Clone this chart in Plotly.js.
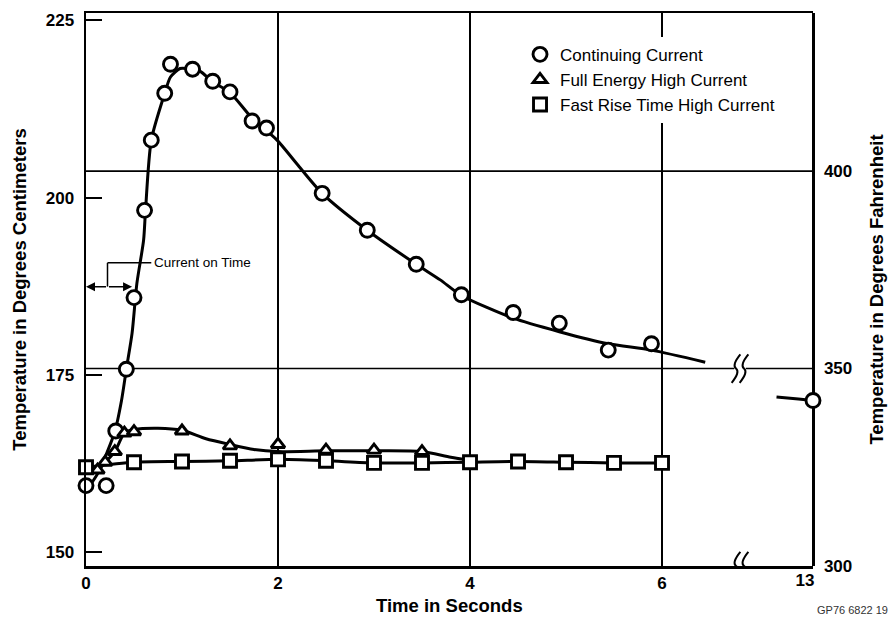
<!DOCTYPE html>
<html>
<head>
<meta charset="utf-8">
<script src="https://cdn.plot.ly/plotly-3.0.1.min.js"></script>
<style>html,body{margin:0;padding:0;background:#fff;}#chart{width:891px;height:620px;}</style>
</head>
<body>
<div id="chart"></div>
<script>
// ---- data ----
// Continuing Current (circles)
const contTime = [0, 0.21, 0.31, 0.42, 0.50, 0.61, 0.68, 0.82, 0.88, 1.11, 1.32, 1.50, 1.73, 1.88, 2.46, 2.93, 3.44, 3.91, 4.45, 4.93, 5.44, 5.89];
const contTemp = [159.4, 159.4, 167.1, 175.8, 185.9, 198.2, 208.1, 214.7, 218.8, 218.1, 216.4, 214.9, 210.8, 209.8, 200.6, 195.4, 190.6, 186.3, 183.8, 182.3, 178.5, 179.4];
// fitted curve drawn through the circles
const contCurveTime = [0.05, 0.13, 0.30, 0.37, 0.42, 0.48, 0.53, 0.60, 0.62, 0.68, 0.82, 0.88, 0.98, 1.05, 1.19, 1.32, 1.50, 1.73, 1.99, 2.20, 2.46, 2.93, 3.44, 3.69, 3.91, 4.45, 4.93, 5.44, 5.89, 6.45];
const contCurveTemp = [159.6, 161.3, 167.0, 171.4, 175.8, 180.9, 187.9, 194.0, 198.2, 208.1, 214.7, 217.0, 218.2, 218.2, 217.8, 216.3, 214.8, 211.2, 208.1, 204.7, 200.6, 195.4, 190.6, 188.4, 186.2, 183.0, 181.1, 179.4, 178.5, 176.8];
// the reading at 13 s (after the axis break)
const lateTime = [13];
const lateTemp = [171.4];
const lateCurveTime = [12.5, 12.8, 13];
const lateCurveTemp = [171.9, 171.6, 171.4];

// Full Energy High Current (triangles)
const fullTime = [0.12, 0.2, 0.3, 0.4, 0.5, 1.0, 1.5, 2.0, 2.5, 3.0, 3.5];
const fullTemp = [161.6, 162.7, 164.2, 166.8, 167.0, 167.1, 165.0, 165.2, 164.4, 164.4, 164.2];
const fullCurveTime = [0, 0.12, 0.2, 0.3, 0.4, 0.5, 0.75, 1.0, 1.25, 1.5, 1.75, 2.0, 2.5, 3.0, 3.5, 3.8, 4.0];
const fullCurveTemp = [162.0, 161.6, 162.7, 164.2, 166.8, 167.3, 167.5, 167.2, 166.0, 165.2, 164.5, 164.2, 164.3, 164.3, 164.2, 163.4, 163.0];

// Fast Rise Time High Current (squares)
const fastTime = [0, 0.5, 1, 1.5, 2, 2.5, 3, 3.5, 4, 4.5, 5, 5.5, 6];
const fastTemp = [162.0, 162.7, 162.8, 162.9, 163.1, 162.9, 162.6, 162.6, 162.7, 162.8, 162.7, 162.6, 162.6];

// axis ticks
const xTicks = [0, 2, 4, 6];
const xBreakTicks = [13];
const yTicksC = [150, 175, 200, 225];
const yTicksF = [300, 350, 400];

const FONT = 'Liberation Sans, Arial, Helvetica, sans-serif';
const INK = '#000';

const curve = (x, y, xa) => ({
  x: x, y: y, xaxis: xa || 'x', yaxis: 'y', type: 'scatter', mode: 'lines',
  line: {color: INK, width: 3, shape: 'spline', smoothing: 0.7},
  showlegend: false, hoverinfo: 'skip'
});
const marks = (x, y, name, symbol, size, xa, show) => ({
  x: x, y: y, xaxis: xa || 'x', yaxis: 'y', type: 'scatter', mode: 'markers', name: name,
  marker: {symbol: symbol, size: size, color: '#fff', line: {color: INK, width: 2.9}},
  cliponaxis: false, showlegend: show !== false
});

const data = [
  curve(fastTime, fastTemp),
  curve(fullCurveTime, fullCurveTemp),
  curve(contCurveTime, contCurveTemp),
  curve(lateCurveTime, lateCurveTemp, 'x2'),
  marks(contTime, contTemp, 'Continuing Current', 'circle', 14),
  marks(fullTime, fullTemp, 'Full Energy High Current', 'triangle-up', 12),
  marks(fastTime, fastTemp, 'Fast Rise Time High Current', 'square', 13),
  marks(lateTime, lateTemp, 'Continuing Current', 'circle', 14, 'x2', false)
];

const brk = 0.8996; // paper position of the axis break
const squiggle = (yv) => {
  const dx = 0.006, dy = 3.6;
  const p = (x0) => `M ${x0 - dx},${yv - dy} Q ${x0 + dx},${yv - dy * 0.25} ${x0},${yv} T ${x0 + dx},${yv + dy}`;
  return [
    {type: 'rect', xref: 'paper', yref: 'y2', x0: brk - 0.008, x1: brk + 0.008, y0: yv - 1.4, y1: yv + 1.4, fillcolor: '#fff', line: {width: 0}, layer: 'above'},
    {type: 'path', xref: 'paper', yref: 'y2', path: p(brk - 0.0055), line: {color: INK, width: 2}, layer: 'above'},
    {type: 'path', xref: 'paper', yref: 'y2', path: p(brk + 0.0055), line: {color: INK, width: 2}, layer: 'above'}
  ];
};

const layout = {
  width: 891, height: 620,
  margin: {l: 86, r: 78, t: 13, b: 54},
  paper_bgcolor: '#fff', plot_bgcolor: '#fff',
  font: {family: FONT, color: INK, size: 16},
  showlegend: true,
  legend: {x: 0.597, y: 0.957, xanchor: 'left', yanchor: 'top', bgcolor: '#fff', borderwidth: 0,
           font: {family: FONT, size: 17, color: INK}, itemclick: false, tracegroupgap: 0},
  xaxis: {domain: [0, brk], range: [0, 6.8125], anchor: 'y', tickvals: xTicks, ticks: '',
          showline: true, linecolor: INK, linewidth: 2.5, mirror: true,
          showgrid: true, gridcolor: INK, gridwidth: 1.6, zeroline: false,
          tickfont: {family: FONT, size: 17, weight: 'bold'}},
  xaxis2: {domain: [brk, 1], range: [12, 13], anchor: 'y', tickvals: xBreakTicks, ticks: '',
           showline: true, linecolor: INK, linewidth: 2.5, mirror: true, showgrid: false, zeroline: false,
           ticklabelshift: -8, ticklabelstandoff: -3, tickfont: {family: FONT, size: 17, weight: 'bold'}},
  yaxis: {domain: [0, 1], range: [148.07, 226.02], anchor: 'x', side: 'left', tickvals: yTicksC,
          ticks: 'inside', ticklen: 16, tickwidth: 2, tickcolor: INK,
          showline: true, linecolor: INK, linewidth: 2.5, showgrid: false, zeroline: false,
          ticklabelstandoff: 6,
          tickfont: {family: FONT, size: 17, weight: 'bold'},
          title: {text: 'Temperature in Degrees Centimeters', standoff: 14, font: {family: FONT, size: 18.5, weight: 'bold'}}},
  yaxis2: {overlaying: 'y', anchor: 'free', position: 1, side: 'right', range: [300, 440.03], tickvals: yTicksF,
           ticks: '', showline: true, linecolor: INK, linewidth: 2.5, showgrid: false, zeroline: false,
           ticklabelstandoff: 6,
           tickfont: {family: FONT, size: 17, weight: 'bold'},
           title: {text: 'Temperature in Degrees Fahrenheit', standoff: 18, font: {family: FONT, size: 18.5, weight: 'bold'}}},
  shapes: [
    {type: 'line', xref: 'paper', yref: 'y2', x0: 0, x1: 1, y0: 400, y1: 400, line: {color: INK, width: 1.6}, layer: 'below'},
    {type: 'line', xref: 'paper', yref: 'y2', x0: 0, x1: 1, y0: 350, y1: 350, line: {color: INK, width: 1.6}, layer: 'below'},
    // "Current on Time" bracket
    {type: 'line', xref: 'x', yref: 'y', x0: 0.224, x1: 0.224, y0: 187.45, y1: 190.8, line: {color: INK, width: 1.5}},
    {type: 'line', xref: 'x', yref: 'y', x0: 0.224, x1: 0.68, y0: 190.8, y1: 190.8, line: {color: INK, width: 1.5}}
  ].concat(squiggle(350), squiggle(300)),
  annotations: [
    {x: 0.69, y: 190.8, xref: 'x', yref: 'y', text: 'Current on Time', showarrow: false, xanchor: 'left', yanchor: 'middle',
     font: {family: FONT, size: 13.5, color: INK}},
    {x: 0.48, y: 187.45, xref: 'x', yref: 'y', ax: 0.224, ay: 187.45, axref: 'x', ayref: 'y', text: '',
     showarrow: true, arrowhead: 2, arrowsize: 1.2, arrowwidth: 1.5, arrowcolor: INK},
    {x: 0.0, y: 187.45, xref: 'x', yref: 'y', ax: 0.224, ay: 187.45, axref: 'x', ayref: 'y', text: '',
     showarrow: true, arrowhead: 2, arrowsize: 1.2, arrowwidth: 1.5, arrowcolor: INK},
    {x: 0.5, y: -0.072, xref: 'paper', yref: 'paper', text: 'Time in Seconds', showarrow: false, xanchor: 'center', yanchor: 'middle',
     font: {family: FONT, size: 18.5, weight: 'bold', color: INK}},
    {x: 1.106, y: -0.08, xref: 'paper', yref: 'paper', text: 'GP76 6822 19', showarrow: false, xanchor: 'right', yanchor: 'middle',
     font: {family: FONT, size: 11, color: '#333'}}
  ]
};

Plotly.newPlot('chart', data, layout, {staticPlot: true, displayModeBar: false});
</script>
</body>
</html>
